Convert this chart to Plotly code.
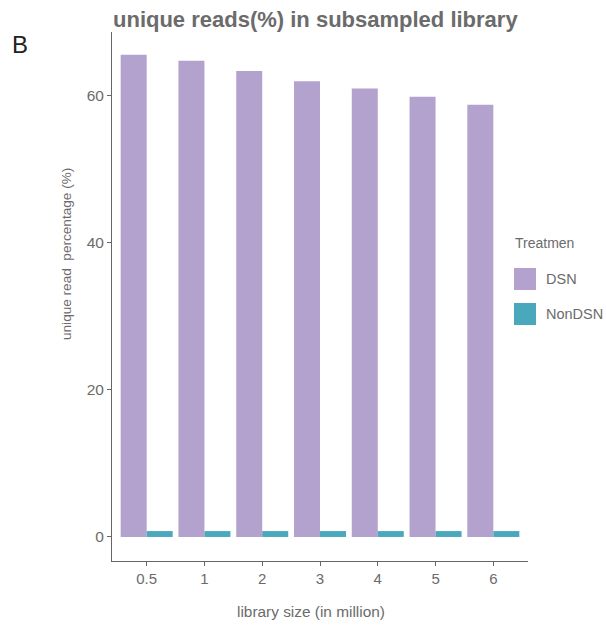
import plotly.graph_objects as go

categories = ["0.5", "1", "2", "3", "4", "5", "6"]
dsn = [65.6, 64.8, 63.4, 62.0, 61.0, 59.9, 58.8]
nondsn = [0.8, 0.8, 0.8, 0.8, 0.8, 0.8, 0.8]
series_names = ["DSN", "NonDSN"]
colors = ["#b3a2cd", "#4aa8bc"]
yticks = [0, 20, 40, 60]

W, H = 606, 625
L = 112
R = W - 528
T = 32
B = H - 561
pw, ph = W - L - R, H - T - B

def px(x):
    return (x - L) / pw

def py(y):
    return (H - B - y) / ph

fig = go.Figure()
for name, vals, col in zip(series_names, [dsn, nondsn], colors):
    fig.add_trace(go.Bar(x=categories, y=vals, name=name, marker=dict(color=col, line=dict(width=0)),
                         showlegend=False))

gray = "#6b6b6b"
fig.update_layout(
    width=W, height=H,
    margin=dict(l=L, r=R, t=T, b=B),
    plot_bgcolor="white", paper_bgcolor="white",
    barmode="group", bargap=0.1, bargroupgap=0,
    font=dict(family="Liberation Sans, Arial", color=gray),
    title=dict(text="<b>unique reads(%) in subsampled library</b>", x=113 / W, xanchor="left",
               xref="container", yref="container", y=1 - 19 / H, yanchor="middle",
               font=dict(size=22, color=gray, family="Liberation Sans, Arial")),
    xaxis=dict(type="category", range=[-0.6, 6.6], showline=True, linecolor="#666666", linewidth=1,
               ticks="outside", ticklen=4, tickcolor="#666666", tickfont=dict(size=15, color=gray),
               showgrid=False, zeroline=False),
    yaxis=dict(range=[-3.27, 68.7], showline=True, linecolor="#666666", linewidth=1,
               tickvals=yticks, ticks="outside", ticklen=4, tickcolor="#666666",
               tickfont=dict(size=15.5, color=gray), showgrid=False, zeroline=False),
)

annotations = [
    dict(text="B", x=px(10), y=py(44), xanchor="left", yanchor="middle", font=dict(size=24, color="#222222")),
    dict(text="unique read  percentage (%)", x=px(66), y=py(254), textangle=-90, xanchor="center",
         yanchor="middle", font=dict(size=13.6, color=gray)),
    dict(text="library size (in million)", x=px(311), y=py(611), xanchor="center", yanchor="middle",
         font=dict(size=15.4, color=gray)),
    dict(text="Treatmen", x=px(513), y=py(243), xanchor="left", yanchor="middle", font=dict(size=14, color=gray)),
]
shapes = []
sw_top = [268, 303]
for name, col, top in zip(series_names, colors, sw_top):
    shapes.append(dict(type="rect", xref="paper", yref="paper", x0=px(514), x1=px(536),
                       y0=py(top + 22), y1=py(top), fillcolor=col, line=dict(width=0)))
    annotations.append(dict(text=name, x=px(544), y=py(top + 11), xanchor="left", yanchor="middle",
                            font=dict(size=14.5, color=gray)))
for a in annotations:
    a.update(xref="paper", yref="paper", showarrow=False)
fig.update_layout(annotations=annotations, shapes=shapes)

fig.write_html("out.html", config={"displayModeBar": False},
               post_script="document.body.style.margin='0';document.body.style.overflow='hidden';")
